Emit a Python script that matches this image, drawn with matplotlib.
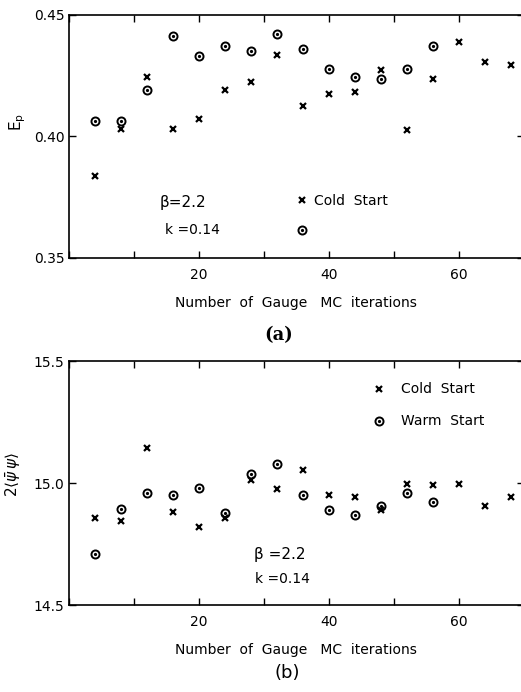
import matplotlib
matplotlib.use('Agg')
import matplotlib.pyplot as plt
from matplotlib.ticker import MultipleLocator, FormatStrFormatter

# gauge MC iterations
iters = [4, 8, 12, 16, 20, 24, 28, 32, 36, 40, 44, 48, 52, 56, 60, 64, 68]
iters_warm = [4, 8, 12, 16, 20, 24, 28, 32, 36, 40, 44, 48, 52, 56]

# (a) plaquette energy
ep_cold = [0.3839, 0.4032, 0.4244, 0.4029, 0.4073, 0.4190, 0.4226, 0.4337, 0.4126,
           0.4174, 0.4182, 0.4274, 0.4028, 0.4237, 0.4389, 0.4307, 0.4294]
ep_warm = [0.4064, 0.4064, 0.4191, 0.4414, 0.4331, 0.4371, 0.4353, 0.4420, 0.4360,
           0.4278, 0.4244, 0.4235, 0.4278, 0.4374]

# (b) 2<psibar psi>
pp_cold = [14.857, 14.846, 15.142, 14.881, 14.820, 14.857, 15.012, 14.977, 15.052,
           14.951, 14.944, 14.889, 14.995, 14.993, 14.995, 14.904, 14.944]
pp_warm = [14.710, 14.893, 14.960, 14.950, 14.981, 14.876, 15.037, 15.078, 14.950,
           14.888, 14.870, 14.904, 14.961, 14.921]

ylim_a = (0.35, 0.45)
ylim_b = (14.5, 15.5)

FS = 10


def style_axes(ax, ylim, ystep, yfmt):
    ax.set_xlim(0, 70)
    ax.set_ylim(*ylim)
    ax.xaxis.set_major_locator(MultipleLocator(20))
    ax.xaxis.set_minor_locator(MultipleLocator(10))
    ax.xaxis.set_major_formatter(FormatStrFormatter('%d'))
    ax.yaxis.set_major_locator(MultipleLocator(ystep))
    ax.yaxis.set_major_formatter(FormatStrFormatter(yfmt))
    ax.tick_params(which='both', direction='in', top=True, right=True,
                   length=5, width=1, labelsize=FS)
    ax.tick_params(axis='x', pad=7)
    ax.tick_params(axis='y', pad=3)
    # x labels only on 20, 40, 60
    ax.set_xticks([20, 40, 60])
    for s in ax.spines.values():
        s.set_linewidth(1.2)
    ax.set_xlabel('Number  of  Gauge   MC  iterations', fontsize=FS, labelpad=10)


def draw_points(ax, x_c, y_c, x_w, y_w):
    cold, = ax.plot(x_c, y_c, 'x', color='black', ms=5, mew=1.6)
    ring, = ax.plot(x_w, y_w, 'o', mfc='none', mec='black', ms=5.8, mew=1.4)
    dot, = ax.plot(x_w, y_w, 'o', color='black', ms=1.3)
    return cold, (ring, dot)


fig = plt.figure(figsize=(5.21, 6.92), dpi=100)
ax1 = fig.add_axes([0.1319, 0.6272, 0.8733, 0.3512])
ax2 = fig.add_axes([0.1319, 0.1257, 0.8733, 0.3526])

# ---- (a)
cold, warm = draw_points(ax1, iters, ep_cold, iters_warm, ep_warm)
style_axes(ax1, ylim_a, 0.05, '%.2f')
ax1.set_ylabel(r'E$_{\mathrm{p}}$', fontsize=FS + 1)
ax1.yaxis.set_label_coords(-0.09, 0.56)
ax1.text(0.20, 0.23, 'β=2.2', transform=ax1.transAxes, fontsize=FS + 1, va='center')
ax1.text(0.212, 0.115, 'k =0.14', transform=ax1.transAxes, fontsize=FS, va='center')
ax1.legend([cold, warm], ['Cold  Start', ''], loc='center left',
           bbox_to_anchor=(0.497, 0.173), frameon=False, fontsize=FS,
           handlelength=1.0, handletextpad=0.4, labelspacing=1.1, borderpad=0,
           borderaxespad=0)
fig.text(0.534, 1 - 335 / 692, '(a)', fontsize=13, fontweight='bold',
         family='DejaVu Serif', ha='center', va='center')

# ---- (b)
cold, warm = draw_points(ax2, iters, pp_cold, iters_warm, pp_warm)
style_axes(ax2, ylim_b, 0.5, '%.1f')
ax2.set_ylabel(r'$2\langle\bar{\psi}\,\psi\rangle$', fontsize=FS + 1)
ax2.yaxis.set_label_coords(-0.10, 0.533)
ax2.text(0.407, 0.209, 'β =2.2', transform=ax2.transAxes, fontsize=FS + 1, va='center')
ax2.text(0.409, 0.107, 'k =0.14', transform=ax2.transAxes, fontsize=FS, va='center')
ax2.legend([cold, warm], ['Cold  Start', 'Warm  Start'], loc='center left',
           bbox_to_anchor=(0.667, 0.818), frameon=False, fontsize=FS,
           handlelength=1.0, handletextpad=1.1, labelspacing=1.3, borderpad=0,
           borderaxespad=0)
fig.text(0.551, 1 - 673 / 692, '(b)', fontsize=13,
         ha='center', va='center')

fig.savefig('out.png', dpi=100)
